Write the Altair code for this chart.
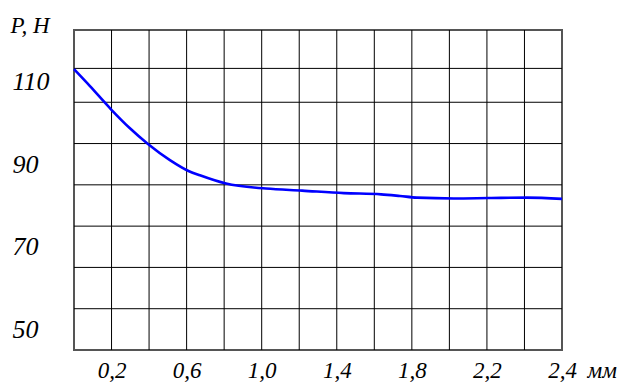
import altair as alt
import pandas as pd

# curve P (N) versus displacement (mm)
curve_x = [0, 0.085, 0.197, 0.298, 0.394, 0.511, 0.613, 0.671, 0.81, 1.023,
           1.215, 1.438, 1.636, 1.737, 1.827, 2.024, 2.211, 2.413, 2.6]
curve_y = [113.0, 108.9, 103.3, 98.7, 94.9, 91.0, 88.3, 87.3, 85.3, 84.1,
           83.6, 83.0, 82.7, 82.3, 81.9, 81.7, 81.8, 81.9, 81.6]

# grid lines
x_grid = [0.2, 0.4, 0.6, 0.8, 1.0, 1.2, 1.4, 1.6, 1.8, 2.0, 2.2, 2.4]
y_grid = [55, 65, 75, 85, 95, 105, 113.2]

# tick labels
x_label_values = [0.2, 0.6, 1.0, 1.4, 1.8, 2.2, 2.6]
x_label_text = ["0,2", "0,6", "1,0", "1,4", "1,8", "2,2", "2,4"]
y_label_values = [50, 70, 90, 110]

FONT = "Liberation Serif"

label_expr = ""
for v, t in zip(x_label_values, x_label_text):
    label_expr += f"abs(datum.value - {v}) < 1e-6 ? '{t}' : "
label_expr += "''"

xs = alt.Scale(domain=[0, 2.6], nice=False, zero=False)
ys = alt.Scale(domain=[45, 122.5], nice=False, zero=False)

x_axis = alt.Axis(values=x_label_values, labelExpr=label_expr, grid=False,
                  ticks=False, tickSize=0, domain=False,
                  labelFont=FONT, labelFontStyle="italic", labelFontSize=23,
                  labelColor="black", labelBaseline="alphabetic", labelPadding=27,
                  labelAlign="center", labelOverlap=False,
                  title="мм", titleFont=FONT, titleFontStyle="italic",
                  titleFontWeight="normal", titleFontSize=23, titleColor="black",
                  titleX=513, titleY=27, titleAlign="left", titleBaseline="alphabetic")

y_axis = alt.Axis(values=y_label_values, format="d", grid=False,
                  ticks=False, tickSize=0, domain=False,
                  labelFont=FONT, labelFontStyle="italic", labelFontSize=26,
                  labelColor="black", labelAlign="left", labelBaseline="middle",
                  labelPadding=62, labelOverlap=False,
                  title="P, H", titleFont=FONT, titleFontStyle="italic",
                  titleFontWeight="normal", titleFontSize=23, titleColor="black",
                  titleAngle=0, titleX=-64, titleY=2, titleAlign="left",
                  titleBaseline="alphabetic")

vgrid = alt.Chart(pd.DataFrame({"x": x_grid})).mark_rule(
    color="black", strokeWidth=1
).encode(x=alt.X("x:Q", scale=xs, axis=x_axis))

hgrid = alt.Chart(pd.DataFrame({"y": y_grid})).mark_rule(
    color="black", strokeWidth=1
).encode(y=alt.Y("y:Q", scale=ys, axis=y_axis))

curve = alt.Chart(pd.DataFrame({"x": curve_x, "y": curve_y})).mark_line(
    color="#0000ff", strokeWidth=2.6, interpolate="monotone"
).encode(
    x=alt.X("x:Q", scale=xs, axis=x_axis),
    y=alt.Y("y:Q", scale=ys, axis=y_axis),
)

chart = alt.layer(vgrid, hgrid, curve).properties(
    width=488, height=320,
    autosize=alt.AutoSizeParams(type="none"),
    padding={"left": 66, "top": 22, "right": 57, "bottom": 35},
    background="white",
).configure_view(stroke="#555555", strokeWidth=2)

chart.save("out.html", embed_options={"renderer": "svg", "actions": False})
